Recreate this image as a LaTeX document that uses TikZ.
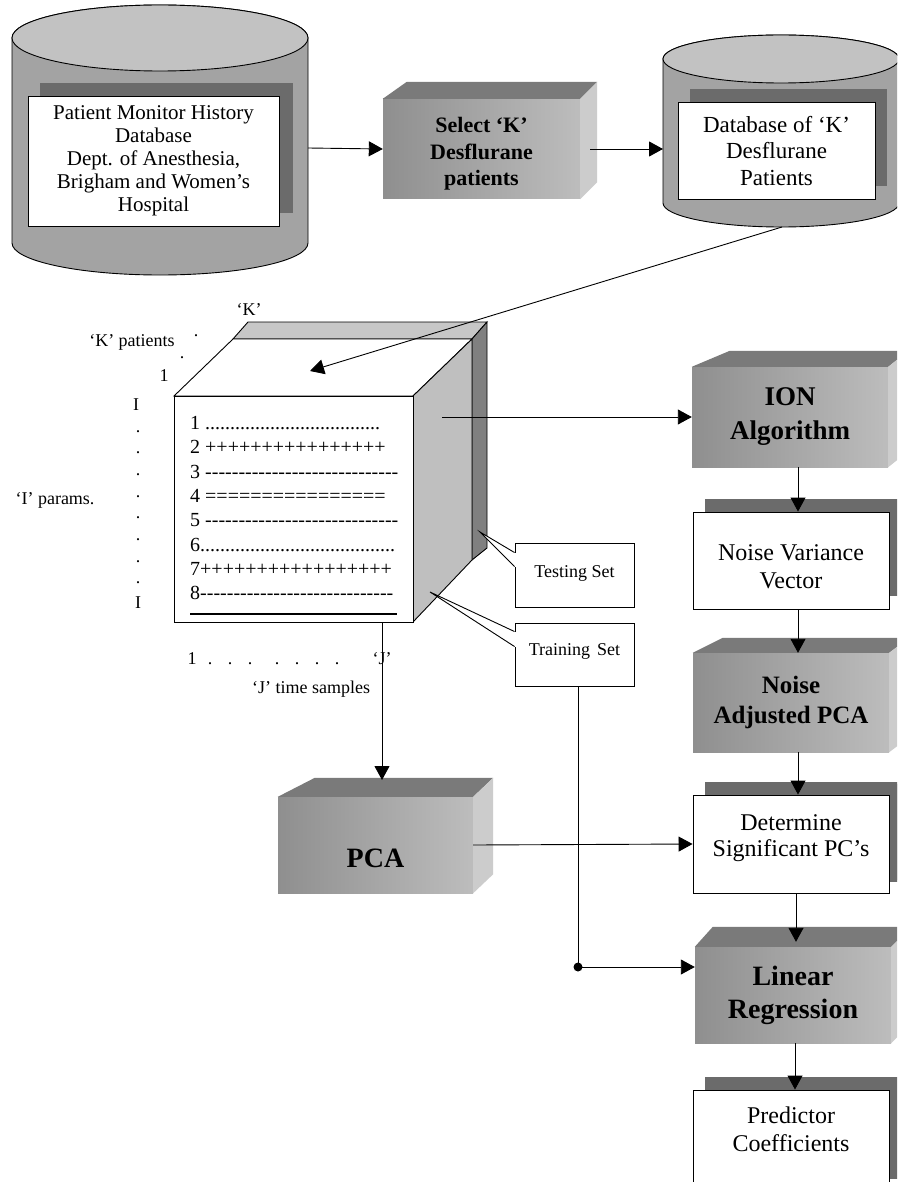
\documentclass[tikz,border=0pt]{standalone}
\usepackage{fontspec}
\setmainfont{Liberation Serif}
\usetikzlibrary{arrows.meta,shadows,calc}
\ExplSyntaxOn
\cs_new:Npn \myrep #1#2 {\prg_replicate:nn{#1}{#2}}
\ExplSyntaxOff
\newcommand\hy{-\kern0pt}
\begin{document}
\begin{tikzpicture}[x=1pt,y=1pt,
  ln/.style={line width=0.9pt},
  arr/.style={ln,-{Triangle[length=14pt,width=15pt]}},
  shadowbox/.style={draw,fill=white,ln,inner sep=0,align=center,general shadow={fill=black!58,shadow xshift=12pt,shadow yshift=13pt}},
  solid3d/.style={inner sep=0,left color=black!44,right color=black!26,align=center},
  topface/.style={fill=black!52},
  sideface/.style={fill=black!20},
  cylbody/.style={draw,ln,fill=black!36},
  cyltop/.style={draw,ln,fill=black!24},
  small/.style={font=\fontsize{18}{21}\selectfont},
  rowtxt/.style={anchor=base west,inner sep=0,font=\fontsize{20}{24}\selectfont},
  tinydot/.style={inner sep=0,font=\fontsize{18}{21}\selectfont},
]
\useasboundingbox (0,0) rectangle (897,-1182);
\clip (0,0) rectangle (897,-1182);
\fill[white] (0,0) rectangle (897,-1182);

% ---- cylinder 1
\draw[cylbody] (12,-38) -- (12,-243) arc[start angle=180,end angle=360,x radius=148,y radius=32] -- (308,-38) arc[start angle=0,end angle=180,x radius=148,y radius=33] -- cycle;
\draw[cyltop] (160,-38) ellipse[x radius=148,y radius=33];
\node[shadowbox,minimum width=251,minimum height=130,font=\fontsize{21}{23}\selectfont,general shadow={fill=black!58,shadow xshift=14pt,shadow yshift=13pt}] (pmh) at (153.5,-161) {Patient Monitor History\\Database\\Dept. of Anesthesia,\\Brigham and Women’s\\Hospital};
\coordinate (db1e) at (308,-148);

% ---- select box
\node[solid3d,minimum width=197,minimum height=100,label={[font=\bfseries\fontsize{22}{26.5}\selectfont,align=center,yshift=-5pt]center:Select ‘K’\\Desflurane\\patients}] (sel) at (481.5,-149) {};
\fill[topface] (sel.north west) -- ++(24,17) -- ($(sel.north east)+(17,17)$) -- (sel.north east) -- cycle;
\fill[sideface] (sel.north east) -- ++(17,17) -- ($(sel.south east)+(17,17)$) -- (sel.south east) -- cycle;
\draw[arr] (db1e) -- (sel.west);

% ---- cylinder 2
\draw[cylbody] (663,-59) -- (663,-203) arc[start angle=180,end angle=360,x radius=118,y radius=24] -- (899,-59) arc[start angle=0,end angle=180,x radius=118,y radius=24] -- cycle;
\draw[cyltop] (781,-59) ellipse[x radius=118,y radius=24];
\node[shadowbox,minimum width=197,minimum height=97,font=\fontsize{23}{26.5}\selectfont] (dbk) at (776.5,-151) {Database of ‘K’\\Desflurane\\Patients};
\coordinate (db2w) at (663,-149);
\coordinate (db2s) at (782,-227);
\draw[arr] ($(sel.east)+(10,0)$) -- (db2w);

% ---- cube
\draw[ln,fill=black!22] (248,-322) -- (487,-322) -- (472,-339) -- (233,-339) -- cycle;
\draw[ln,fill=black!50] (472,-339) -- (487,-322) -- (487,-548) -- (472,-560) -- cycle;
\draw[ln,fill=white] (174,-396) -- (233,-339) -- (472,-339) -- (413,-396) -- cycle;
\draw[ln,fill=black!25] (413,-396) -- (472,-339) -- (472,-560) -- (413,-622) -- cycle;
\node[draw,ln,fill=white,minimum width=239,minimum height=226,inner sep=0] (cube) at (293.5,-509) {};
\node[rowtxt] (r1) at (190,-429) {1 \myrep{35}{.}};
\node[rowtxt] (r2) at (190,-453) {2 \myrep{16}{+}};
\node[rowtxt] (r3) at (190,-478) {3 \myrep{29}{\hy}};
\node[rowtxt] (r4) at (190,-502) {4 \myrep{16}{=}};
\node[rowtxt] (r5) at (190,-526) {5 \myrep{29}{\hy}};
\node[rowtxt] (r6) at (190,-551) {6\myrep{39}{.}};
\node[rowtxt] (r7) at (190,-575) {7\myrep{17}{+}};
\node[rowtxt] (r8) at (190,-599) {8\myrep{29}{\hy}};
\draw[line width=1.6pt] (190,-614) -- (397,-614);
\coordinate (cubetop) at (310,-371);
\coordinate (cuberight) at (442,-417);
\coordinate (cubebot) at (382,-622);
\draw[arr] (db2s) -- (cubetop);

% ---- axis labels
\node[small] (klab) at (249,-310) {‘K’};
\node[small] (kpat) at (132,-342) {‘K’ patients};
\node[tinydot] (kd1) at (196,-336) {.};
\node[tinydot] (kd2) at (182,-358) {.};
\node[small] (k1) at (164,-376) {1};
\node[small,anchor=base] (ia) at (136,-410) {I};
\foreach \yy [count=\i] in {432,453,475,497,518,540,562,583}
  \node[tinydot] (idot\i) at (138,-\yy) {.};
\node[small,anchor=base] (ib) at (138,-608) {I};
\node[small,anchor=west] (ipar) at (12,-500) {‘I’ params.};
\node[small,anchor=base] (j1) at (192,-664) {1};
\foreach \xx [count=\i] in {210,230,250,277,297,317,337}
  \node[small,anchor=base] (jdot\i) at (\xx,-664) {.};
\node[small,anchor=base] (jj) at (382,-664) {‘J’};
\node[small,anchor=base] (jts) at (311,-693) {‘J’ time samples};

% ---- callouts
\node[draw,ln,fill=white,minimum width=119,minimum height=64,inner sep=0,label={[small,yshift=2pt]center:Testing Set}] (test) at (574.5,-575) {};
\coordinate (ta) at ($(test.north west)+(0,-10)$);
\coordinate (tb) at ($(test.north west)+(0,-24)$);
\coordinate (tt) at (480,-532);
\fill[white] (ta) -- (tt) -- (tb) -- cycle;
\fill[white] ($(ta)+(-1,0)$) rectangle ($(tb)+(1.3,0)$);
\draw[ln] (ta) -- (tt) -- (tb);

\node[draw,ln,fill=white,minimum width=119,minimum height=63,inner sep=0,label={[small,yshift=3pt]center:Training\hspace{7pt}Set}] (train) at (574.5,-654.5) {};
\coordinate (ra) at ($(train.north west)+(0,-9)$);
\coordinate (rb) at ($(train.north west)+(0,-24)$);
\coordinate (rt) at (430,-592);
\fill[white] (ra) -- (rt) -- (rb) -- cycle;
\fill[white] ($(ra)+(-1,0)$) rectangle ($(rb)+(1.3,0)$);
\draw[ln] (ra) -- (rt) -- (rb);

% ---- PCA
\node[solid3d,minimum width=195,minimum height=96,label={[font=\bfseries\fontsize{28}{30}\selectfont,yshift=-13pt]center:PCA}] (pca) at (375.5,-845) {};
\fill[topface] (pca.north west) -- ++(37,19) -- ($(pca.north east)+(20,19)$) -- (pca.north east) -- cycle;
\fill[sideface] (pca.north east) -- ++(20,19) -- ($(pca.south east)+(20,19)$) -- (pca.south east) -- cycle;
\coordinate (pcatop) at (382,-780);
\draw[arr] (cubebot) -- (pcatop);

% ---- right column
\node[solid3d,minimum width=196,minimum height=100,font=\bfseries\fontsize{27}{34}\selectfont] (ion) at (790,-417) {ION\\Algorithm};
\fill[topface] (ion.north west) -- ++(38,16) -- ($(ion.north east)+(20,16)$) -- (ion.north east) -- cycle;
\fill[sideface] (ion.north east) -- ++(20,16) -- ($(ion.south east)+(20,16)$) -- (ion.south east) -- cycle;
\draw[arr] (cuberight) -- (ion.west);

\node[shadowbox,minimum width=196,minimum height=97,label={[font=\fontsize{24}{28}\selectfont,align=center,yshift=-6pt]center:Noise Variance\\Vector}] (nvv) at (791,-560.5) {};
\draw[arr] ([xshift=8pt]ion.south) -- ([xshift=7pt]nvv.north);

\node[solid3d,minimum width=196,minimum height=99,font=\bfseries\fontsize{25}{30}\selectfont] (nap) at (791,-702.5) {Noise\\Adjusted PCA};
\fill[topface] (nap.north west) -- ++(30,15) -- ($(nap.north east)+(20,15)$) -- (nap.north east) -- cycle;
\fill[sideface] (nap.north east) -- ++(20,15) -- ($(nap.south east)+(20,15)$) -- (nap.south east) -- cycle;
\draw[arr] ([xshift=7pt]nvv.south) -- ([xshift=7pt]nap.north);

\node[shadowbox,minimum width=196,minimum height=98,general shadow={fill=black!58,shadow xshift=13pt,shadow yshift=11pt},label={[font=\fontsize{24}{26}\selectfont,align=center,yshift=6pt]center:Determine\\Significant PC’s}] (det) at (791,-844) {};
\draw[arr] ([xshift=7pt]nap.south) -- ([xshift=7pt]det.north);
\draw[arr] (pca.east) -- (det.west);

\node[solid3d,minimum width=196,minimum height=96,font=\bfseries\fontsize{28}{33}\selectfont] (lr) at (793,-995) {Linear\\Regression};
\fill[topface] (lr.north west) -- ++(18,20) -- ($(lr.north east)+(20,20)$) -- (lr.north east) -- cycle;
\fill[sideface] (lr.north east) -- ++(20,20) -- ($(lr.south east)+(20,20)$) -- (lr.south east) -- cycle;
\draw[arr] ([xshift=5pt]det.south) -- ([xshift=3pt,yshift=5pt]lr.north);

\coordinate (jn) at (578,-967);
\draw[ln] (jn |- train.south) -- (jn);
\fill (jn) circle[radius=4.5];
\draw[arr] (jn) -- (lr.west |- jn);

\node[shadowbox,minimum width=196,minimum height=102,label={[font=\fontsize{24}{28}\selectfont,align=center,yshift=12pt]center:Predictor\\Coefficients}] (pred) at (791,-1141) {};
\draw[arr] ([xshift=2pt]lr.south) -- ([xshift=4pt]pred.north);
\end{tikzpicture}
\end{document}
